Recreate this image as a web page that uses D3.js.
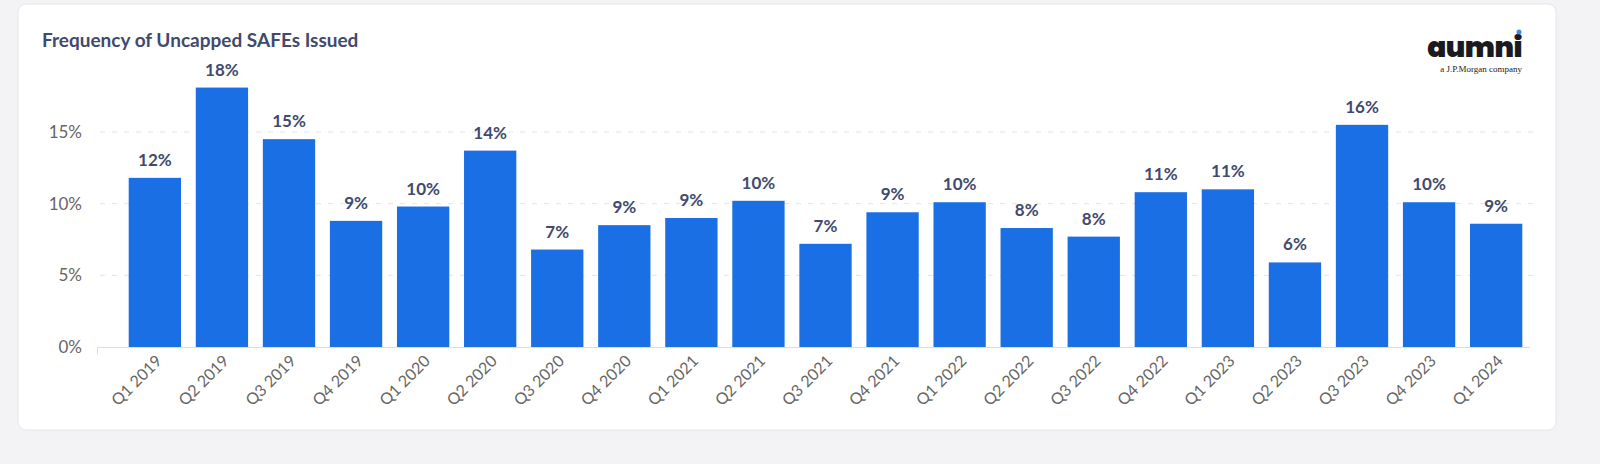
<!DOCTYPE html>
<html><head><meta charset="utf-8">
<script src="https://cdn.jsdelivr.net/npm/d3@7"></script>
<style>html,body{margin:0;padding:0;overflow:hidden;background:#f3f3f6;font-family:Lato,sans-serif;}svg{display:block;}</style>
</head><body><svg id="c" width="1600" height="464"></svg>
<script>
const categories=["Q1 2019","Q2 2019","Q3 2019","Q4 2019","Q1 2020","Q2 2020","Q3 2020","Q4 2020","Q1 2021","Q2 2021","Q3 2021","Q4 2021","Q1 2022","Q2 2022","Q3 2022","Q4 2022","Q1 2023","Q2 2023","Q3 2023","Q4 2023","Q1 2024"];
const values=[11.8,18.1,14.5,8.8,9.8,13.7,6.8,8.5,9.0,10.2,7.2,9.4,10.1,8.3,7.7,10.8,11.0,5.9,15.5,10.1,8.6];
const labels=["12%","18%","15%","9%","10%","14%","7%","9%","9%","10%","7%","9%","10%","8%","8%","11%","11%","6%","16%","10%","9%"];
const yTicks=[0,5,10,15];
const svg=d3.select("#c");
svg.append("rect").attr("x",18).attr("y",4).attr("width",1538).attr("height",426).attr("rx",8).attr("fill","#fff").attr("stroke","#e6e6ea");
svg.append("text").attr("x",42).attr("y",47).attr("fill","#3f4a6e").attr("font-size",19).attr("font-weight",700).text("Frequency of Uncapped SAFEs Issued");
const x=d3.scaleBand().domain(categories).range([122,1529]).paddingInner(0.22).paddingOuter(0.1);
const y=d3.scaleLinear().domain([0,15]).range([347,132]);
const g=svg.append("g");
yTicks.forEach(t=>{
 if(t>0) g.append("line").attr("x1",100).attr("x2",1540).attr("y1",y(t)).attr("y2",y(t)).attr("stroke","#e3e3e6").attr("stroke-dasharray","5,7");
 g.append("text").attr("x",82).attr("y",y(t)+6).attr("text-anchor","end").attr("font-size",17).attr("fill","#666").text(t+"%");
});
g.selectAll("rect.b").data(values).enter().append("rect").attr("x",(d,i)=>x(categories[i])).attr("y",d=>y(d)).attr("width",x.bandwidth()).attr("height",d=>y(0)-y(d)).attr("fill","#1a6fe4");
g.append("line").attr("x1",97).attr("x2",1530).attr("y1",347.5).attr("y2",347.5).attr("stroke","#ddd");
g.append("line").attr("x1",97.5).attr("x2",97.5).attr("y1",347).attr("y2",354).attr("stroke","#ddd");
g.selectAll("text.v").data(values).enter().append("text").attr("x",(d,i)=>x(categories[i])+x.bandwidth()/2).attr("y",d=>y(d)-12).attr("text-anchor","middle").attr("font-size",17).attr("font-weight",700).attr("fill","#3f4a6e").text((d,i)=>labels[i]);
categories.forEach(c=>{
 const cx=x(c)+x.bandwidth()/2+8, cy=362;
 g.append("text").attr("transform",`translate(${cx},${cy}) rotate(-45)`).attr("text-anchor","end").attr("font-size",16).attr("fill","#666").text(c);
});
svg.append("text").attr("x",1522).attr("y",57).attr("text-anchor","end").attr("font-size",28).attr("font-weight",900).attr("fill","#1b1b1f").attr("font-family","Poppins,'DejaVu Sans',sans-serif").attr("letter-spacing","-0.5").text("aumni");
svg.append("circle").attr("cx",1519).attr("cy",32).attr("r",2.5).attr("fill","#3b8cf0");
svg.append("text").attr("x",1522).attr("y",72).attr("text-anchor","end").attr("font-size",9).attr("fill","#222").attr("font-family","'Liberation Serif',serif").text("a J.P.Morgan company");
</script></body></html>
